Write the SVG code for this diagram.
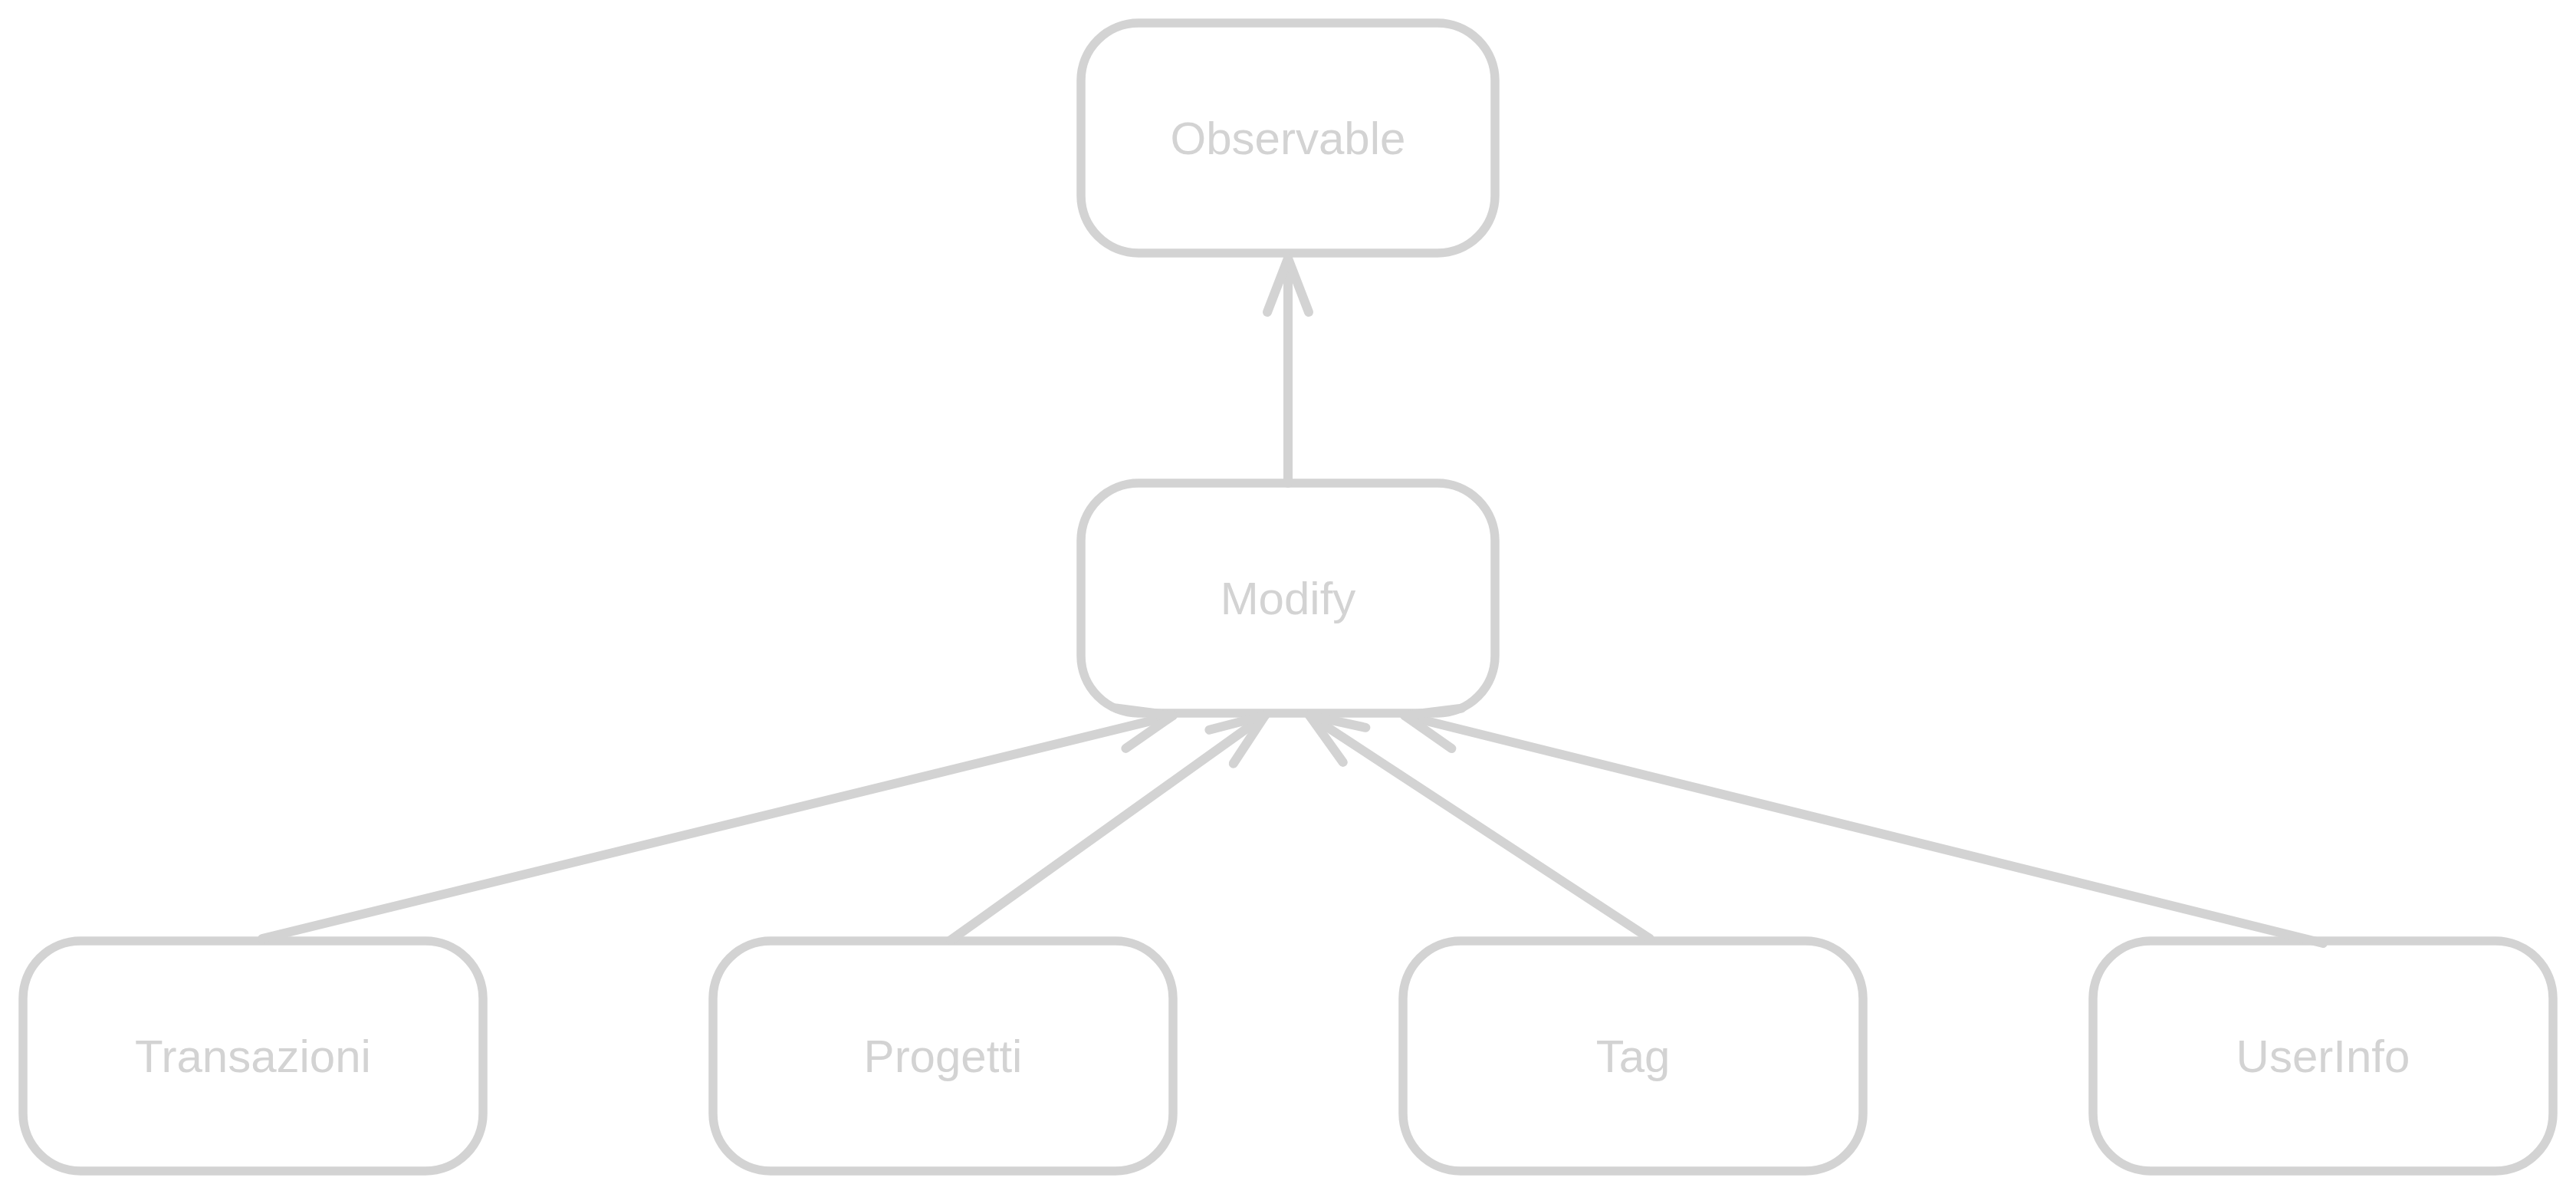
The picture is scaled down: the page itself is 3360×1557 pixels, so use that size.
<svg xmlns="http://www.w3.org/2000/svg" width="3360" height="1557" viewBox="0 0 3360 1557">
  <style>
    .box { fill: #ffffff; stroke: #d3d3d3; stroke-width: 11.5; }
    .lbl { fill: #d3d3d3; font-family: "Liberation Sans", Arial, Helvetica, sans-serif; font-size: 60px; text-anchor: middle; }
    .edge { fill: none; stroke: #d3d3d3; stroke-width: 12; stroke-linecap: round; }
    .head { fill: none; stroke: #d3d3d3; stroke-width: 12; stroke-linecap: round; stroke-linejoin: round; }
  </style>
  <defs>
    <marker id="arrow" markerUnits="userSpaceOnUse" markerWidth="100" markerHeight="100" refX="0" refY="0" orient="auto" style="overflow:visible">
      <path class="head" d="M-70,-27 L0,0 L-70,27"/>
    </marker>
  </defs>
  <rect width="3360" height="1557" fill="#ffffff"/>
  <g id="node-observable">
    <rect class="box" x="1410" y="30" width="540" height="300" rx="75" ry="75"/>
    <text class="lbl" x="1680" y="201">Observable</text>
  </g>
  <g id="node-modify">
    <rect class="box" x="1410" y="630" width="540" height="300" rx="75" ry="75"/>
    <text class="lbl" x="1680" y="801">Modify</text>
  </g>
  <g id="node-transazioni">
    <rect class="box" x="30" y="1227" width="600" height="300" rx="75" ry="75"/>
    <text class="lbl" x="330" y="1398">Transazioni</text>
  </g>
  <g id="node-progetti">
    <rect class="box" x="930" y="1227" width="600" height="300" rx="75" ry="75"/>
    <text class="lbl" x="1230" y="1398">Progetti</text>
  </g>
  <g id="node-tag">
    <rect class="box" x="1830" y="1227" width="600" height="300" rx="75" ry="75"/>
    <text class="lbl" x="2130" y="1398">Tag</text>
  </g>
  <g id="node-userinfo">
    <rect class="box" x="2730" y="1227" width="600" height="300" rx="75" ry="75"/>
    <text class="lbl" x="3030" y="1398">UserInfo</text>
  </g>
  <g id="connectors">
    <line class="edge" x1="1680" y1="630" x2="1680" y2="337" marker-end="url(#arrow)"/>
    <line class="edge" x1="342" y1="1224" x2="1530" y2="933" marker-end="url(#arrow)"/>
    <line class="edge" x1="1240" y1="1226" x2="1650" y2="933" marker-end="url(#arrow)"/>
    <line class="edge" x1="2152" y1="1224" x2="1708" y2="933" marker-end="url(#arrow)"/>
    <line class="edge" x1="3030" y1="1230" x2="1832" y2="933" marker-end="url(#arrow)"/>
  </g>
</svg>
